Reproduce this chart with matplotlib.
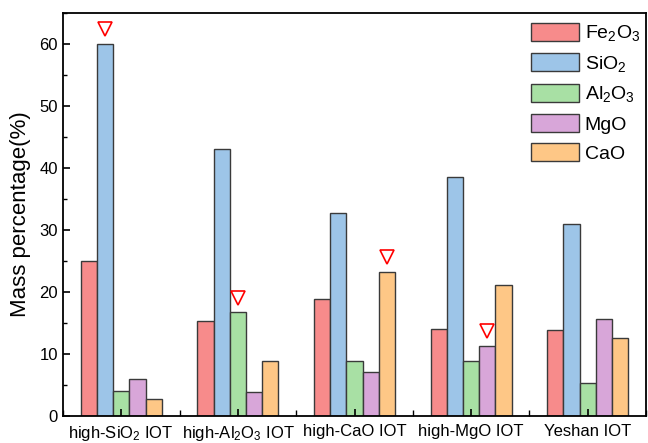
import matplotlib
matplotlib.use("Agg")
from matplotlib import pyplot as plt
from matplotlib.ticker import MultipleLocator
import numpy as np

plt.rcParams['font.family'] = ['Liberation Sans', 'DejaVu Sans']
plt.rcParams['mathtext.fontset'] = 'custom'
plt.rcParams['mathtext.rm'] = 'Liberation Sans'
plt.rcParams['mathtext.it'] = 'Liberation Sans:italic'

groups = ['high-SiO$_2$ IOT', 'high-Al$_2$O$_3$ IOT', 'high-CaO IOT',
          'high-MgO IOT', 'Yeshan IOT']
oxides = ['Fe$_2$O$_3$', 'SiO$_2$', 'Al$_2$O$_3$', 'MgO', 'CaO']
fe2o3 = [25.0, 15.3, 18.8, 14.0, 13.8]
sio2 = [60.0, 43.0, 32.8, 38.6, 31.0]
al2o3 = [4.1, 16.7, 8.9, 8.8, 5.3]
mgo = [6.0, 3.9, 7.1, 11.3, 15.6]
cao = [2.7, 8.9, 23.3, 21.2, 12.5]
colors = ['#F78B8B', '#9DC5E8', '#A8E0A4', '#D8A6D9', '#FEC786']
# (group index, oxide index) of the marked bars
marked = [(0, 1), (1, 2), (2, 4), (3, 3)]

series = [fe2o3, sio2, al2o3, mgo, cao]

fig = plt.figure(figsize=(6.48, 4.43), dpi=100)
ax = fig.add_axes([0.0972, 0.061, 0.8998, 0.9097])

x = np.arange(len(groups))
w = 0.139
for i, vals in enumerate(series):
    ax.bar(x + (i - 2) * w, vals, w, color=colors[i], edgecolor='#3a3a3a',
           linewidth=1.0, label=oxides[i])

for g, o in marked:
    ax.plot(g + (o - 2) * w, series[o][g] + 2.4, marker='v', markersize=10,
            markerfacecolor='none', markeredgecolor='red', markeredgewidth=1.2,
            linestyle='none')

ax.set_xlim(-0.5, 4.5)
ax.set_ylim(0, 65)
ax.set_xticks(x)
ax.set_xticklabels(groups)
ax.xaxis.set_minor_locator(MultipleLocator(0.5))
ax.yaxis.set_major_locator(MultipleLocator(10))
ax.yaxis.set_minor_locator(MultipleLocator(5))
ax.tick_params(axis='both', which='both', direction='in', labelsize=12)
ax.tick_params(axis='both', which='major', length=5, width=1.2)
ax.tick_params(axis='both', which='minor', length=3, width=1.0)
ax.tick_params(axis='x', which='minor', length=4)
ax.tick_params(axis='x', which='major', pad=6)
ax.set_ylabel('Mass percentage(%)', fontsize=16, labelpad=6)
for s in ax.spines.values():
    s.set_linewidth(1.3)

ax.legend(loc='upper right', bbox_to_anchor=(1.0, 0.99), fontsize=14,
          frameon=False, handlelength=2.45, handleheight=1.05,
          labelspacing=0.5, handletextpad=0.3, borderaxespad=0.1,
          borderpad=0.2)

fig.savefig('out.png', dpi=100)
